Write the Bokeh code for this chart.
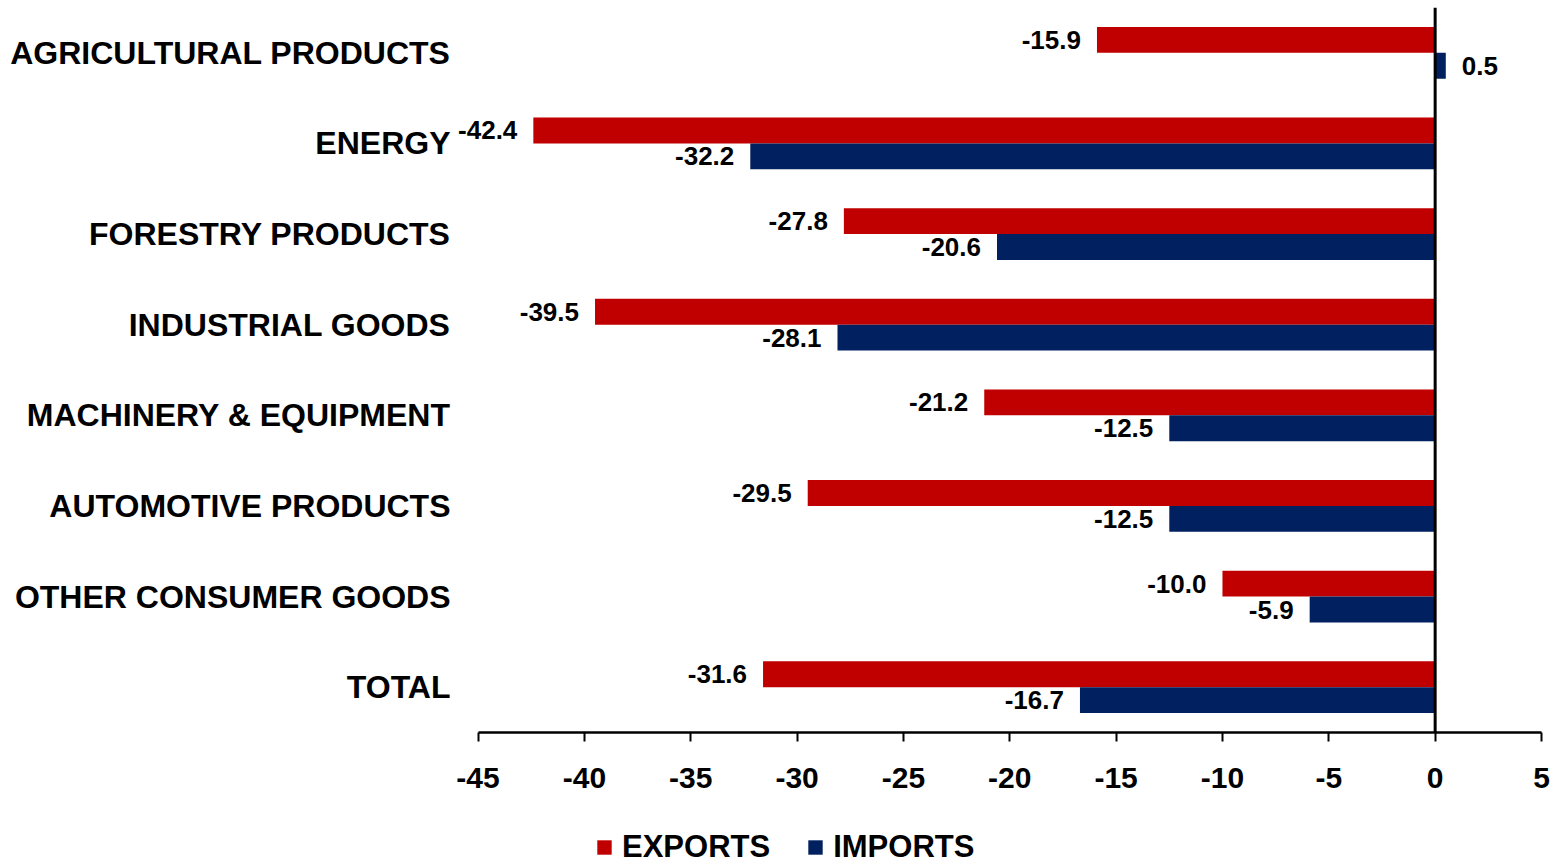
from bokeh.plotting import figure
from bokeh.layouts import column
from bokeh.models import (ColumnDataSource, FactorRange, FixedTicker, Span, LabelSet,
                          Legend, LegendItem, CustomJSTickFormatter, Range1d)
from bokeh.core.properties import value
from bokeh.transform import dodge
from bokeh.embed import file_html
from bokeh.resources import INLINE

categories = ["AGRICULTURAL PRODUCTS", "ENERGY", "FORESTRY PRODUCTS", "INDUSTRIAL GOODS",
              "MACHINERY & EQUIPMENT", "AUTOMOTIVE PRODUCTS", "OTHER CONSUMER GOODS", "TOTAL"]
exports = [-15.9, -42.4, -27.8, -39.5, -21.2, -29.5, -10.0, -31.6]
imports = [0.5, -32.2, -20.6, -28.1, -12.5, -12.5, -5.9, -16.7]
x_ticks = [-45, -40, -35, -30, -25, -20, -15, -10, -5, 0, 5]
series_names = ["EXPORTS", "IMPORTS"]

EXP_COLOR = "#C00000"
IMP_COLOR = "#002060"
FONT = "Liberation Sans"

p = figure(width=1566, height=807, output_backend="svg", toolbar_location=None,
           y_range=FactorRange(factors=list(reversed(categories))),
           x_range=(-47, 5), min_border_left=435, min_border_right=25,
           min_border_top=7, min_border_bottom=75)
p.outline_line_color = None
p.xgrid.visible = False
p.ygrid.visible = False
p.background_fill_color = "white"
p.border_fill_color = "white"

def fmt(v):
    return "%.1f" % v

def make_src(vals):
    return ColumnDataSource(dict(
        cat=categories, val=vals,
        txt=[fmt(v) for v in vals],
        align=["right" if v < 0 else "left" for v in vals],
        xoff=[-16 if v < 0 else 16 for v in vals],
    ))

src_e = make_src(exports)
src_i = make_src(imports)

bh = 0.285
off = 0.143
p.hbar(y=dodge("cat", off, range=p.y_range), right="val", left=0, height=bh,
       source=src_e, fill_color=EXP_COLOR, line_color=None)
p.hbar(y=dodge("cat", -off, range=p.y_range), right="val", left=0, height=bh,
       source=src_i, fill_color=IMP_COLOR, line_color=None)

for src, o in ((src_e, off), (src_i, -off)):
    lab = LabelSet(x="val", y=dodge("cat", o, range=p.y_range), text="txt", source=src,
                   x_offset="xoff", text_align="align", text_baseline="middle",
                   text_font=value(FONT), text_font_style="bold", text_font_size="26px",
                   text_color="black")
    p.add_layout(lab)

p.add_layout(Span(location=0, dimension="height", line_color="black", line_width=3))

xa = p.xaxis[0]
xa.bounds = (-45, 5)
xa.ticker = FixedTicker(ticks=x_ticks)
xa.formatter = CustomJSTickFormatter(code="return tick.toString();")
xa.minor_tick_line_color = None
xa.axis_line_color = "black"
xa.axis_line_width = 2.5
xa.major_tick_line_color = "black"
xa.major_tick_line_width = 2
xa.major_tick_in = 0
xa.major_tick_out = 9
xa.major_label_standoff = 26
xa.major_label_text_font = FONT
xa.major_label_text_font_style = "bold"
xa.major_label_text_font_size = "30px"
xa.major_label_text_color = "black"

ya = p.yaxis[0]
ya.axis_line_color = None
ya.major_tick_line_color = None
ya.minor_tick_line_color = None
ya.major_tick_out = 0
ya.major_tick_in = 0
ya.major_label_standoff = -15
ya.major_label_text_font = FONT
ya.major_label_text_font_style = "bold"
ya.major_label_text_font_size = "32px"
ya.major_label_text_color = "black"

# legend strip below the chart (its frame is aligned with the chart's frame)
lg = figure(width=1566, height=58, output_backend="svg", toolbar_location=None,
            x_range=Range1d(0, 1), y_range=Range1d(0, 1),
            min_border_left=435, min_border_right=25, min_border_top=0, min_border_bottom=0)
lg.axis.visible = False
lg.grid.visible = False
lg.outline_line_color = None
lg.border_fill_color = "white"
dummy = ColumnDataSource(dict(l=[0], r=[0], b=[0], t=[0]))
le = lg.quad(left="l", right="r", bottom="b", top="t", source=dummy,
             fill_color=EXP_COLOR, line_color=None)
li = lg.quad(left="l", right="r", bottom="b", top="t", source=dummy,
             fill_color=IMP_COLOR, line_color=None)
legend = Legend(items=[LegendItem(label=series_names[0], renderers=[le]),
                       LegendItem(label=series_names[1], renderers=[li])],
                orientation="horizontal", location=(160, 0),
                glyph_width=18, glyph_height=18, label_standoff=9, spacing=36,
                padding=0, margin=0, border_line_color=None, background_fill_alpha=0,
                label_text_font=FONT, label_text_font_style="bold",
                label_text_font_size="31px", label_text_color="black",
                label_text_baseline="middle")
lg.add_layout(legend, "center")

layout = column(p, lg, spacing=0)
open("out.html", "w").write(file_html(layout, INLINE))
